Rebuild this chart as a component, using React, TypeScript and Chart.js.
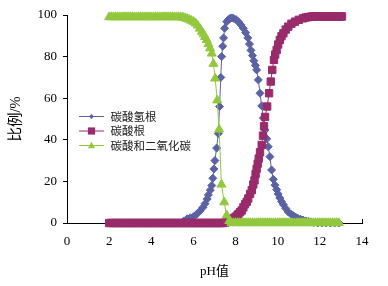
import React, { useEffect, useRef } from 'react';
import { Chart, registerables } from 'chart.js';

Chart.register(...registerables);

const seriesNames = ['碳酸氢根', '碳酸根', '碳酸和二氧化碳'];
const seriesColors = ['#5B62A3', '#992B6B', '#92C83E'];
const seriesStyles = ['rectRot', 'rect', 'triangle'];
const xTickValues = [0, 2, 4, 6, 8, 10, 12, 14];
const yTickValues = [0, 20, 40, 60, 80, 100];

// 碳酸氢根 (pH, %)
const bicarbonate: [number, number][] = [
  [2.0, 0], [2.2, 0], [2.4, 0], [2.6, 0], [2.8, 0], [3.0, 0], [3.2, 0], [3.4, 0], [3.6, 0],
  [3.8, 0], [4.0, 0], [4.2, 0], [4.4, 0], [4.6, 0], [4.8, 0], [5.0, 0], [5.2, 0], [5.4, 0],
  [5.55, 1], [5.7, 2], [5.85, 2.5], [6.0, 3], [6.15, 4.2], [6.31, 5.8], [6.45, 7.5],
  [6.55, 9.3], [6.65, 11.5], [6.71, 13.5], [6.8, 15.8], [6.87, 18], [6.92, 21.5],
  [6.97, 26], [7.02, 30], [7.1, 36], [7.18, 43], [7.24, 56], [7.3, 70], [7.34, 80],
  [7.39, 85], [7.43, 89], [7.48, 93.6], [7.58, 96.8], [7.66, 97.8], [7.74, 98.4],
  [7.82, 98.6], [7.9, 98.4], [8.02, 97.8], [8.13, 96.8], [8.25, 95.3], [8.37, 93.6],
  [8.48, 91.5], [8.58, 89], [8.66, 86], [8.73, 83], [8.8, 80.5], [8.87, 78], [8.94, 75.8],
  [9.0, 73.6], [9.08, 68.8], [9.16, 62.4], [9.24, 56.3], [9.32, 50.5], [9.4, 44.7],
  [9.48, 40.5], [9.55, 36.7], [9.63, 31.9], [9.71, 25.5], [9.79, 21], [9.87, 18.2],
  [9.95, 16], [10.02, 14], [10.1, 12], [10.18, 10.3], [10.27, 8.8], [10.38, 7],
  [10.5, 5.3], [10.62, 4.3], [10.74, 3.5], [10.85, 2.8], [10.95, 2.3], [11.08, 1.8],
  [11.2, 1.4], [11.33, 1], [11.45, 0.7], [11.58, 0.5], [11.7, 0.3], [11.9, 0], [12.1, 0],
  [12.3, 0], [12.5, 0], [12.7, 0], [12.9, 0],
];

// 碳酸根 (pH, %)
const carbonate: [number, number][] = [
  [2.0, 0], [2.1, 0], [2.2, 0], [2.3, 0], [2.4, 0], [2.5, 0], [2.6, 0], [2.7, 0], [2.8, 0],
  [2.9, 0], [3.0, 0], [3.1, 0], [3.2, 0], [3.3, 0], [3.4, 0], [3.5, 0], [3.6, 0], [3.7, 0],
  [3.8, 0], [3.9, 0], [4.0, 0], [4.1, 0], [4.2, 0], [4.3, 0], [4.4, 0], [4.5, 0], [4.6, 0],
  [4.7, 0], [4.8, 0], [4.9, 0], [5.0, 0], [5.1, 0], [5.2, 0], [5.3, 0], [5.4, 0], [5.5, 0],
  [5.6, 0], [5.7, 0], [5.8, 0], [5.9, 0], [6.0, 0], [6.1, 0], [6.2, 0], [6.3, 0], [6.4, 0],
  [6.5, 0], [6.6, 0], [6.7, 0], [6.8, 0], [6.9, 0], [7.0, 0], [7.1, 0], [7.2, 0], [7.3, 0],
  [7.4, 0], [7.5, 0.2], [7.6, 0.5], [7.68, 0.8], [7.75, 1.2], [7.83, 1.7], [7.9, 2.2],
  [7.96, 2.6], [8.02, 3], [8.08, 3.6], [8.13, 4.2], [8.21, 5.2], [8.29, 6], [8.37, 7.5],
  [8.45, 9], [8.53, 10.2], [8.6, 11.8], [8.69, 14], [8.77, 15.8], [8.84, 18.5],
  [8.9, 20.5], [8.95, 23.5], [9.0, 26], [9.05, 28.5], [9.1, 31], [9.16, 34], [9.24, 37.5],
  [9.3, 42], [9.35, 46.5], [9.4, 51], [9.5, 56], [9.59, 62.4], [9.67, 68], [9.74, 73.6],
  [9.82, 78.4], [9.88, 81], [9.95, 83.2], [10.02, 85.8], [10.1, 88], [10.18, 89.8],
  [10.27, 91.2], [10.38, 93], [10.5, 94.4], [10.65, 95.8], [10.82, 96.8], [11.0, 97.7],
  [11.2, 98.4], [11.33, 98.8], [11.45, 99], [11.6, 99.3], [11.7, 99.3], [11.8, 99.3],
  [11.9, 99.3], [12.0, 99.3], [12.1, 99.3], [12.2, 99.3], [12.3, 99.3], [12.4, 99.3],
  [12.5, 99.3], [12.6, 99.3], [12.7, 99.3], [12.8, 99.3], [12.9, 99.3], [13.0, 99.3],
  [13.05, 99.3],
];

// 碳酸和二氧化碳 (pH, %)
const carbonicAcid: [number, number][] = [
  [2.0, 99], [2.1, 99], [2.2, 99], [2.3, 99], [2.4, 99], [2.5, 99], [2.6, 99], [2.7, 99],
  [2.8, 99], [2.9, 99], [3.0, 99], [3.1, 99], [3.2, 99], [3.3, 99], [3.4, 99], [3.5, 99],
  [3.6, 99], [3.7, 99], [3.8, 99], [3.9, 99], [4.0, 99], [4.1, 99], [4.2, 99], [4.3, 99],
  [4.4, 99], [4.5, 99], [4.6, 99], [4.7, 99], [4.8, 99], [4.9, 99], [5.0, 99], [5.1, 99],
  [5.2, 99], [5.3, 99], [5.4, 98.9], [5.5, 98.8], [5.6, 98.5], [5.7, 98.2], [5.8, 97.8],
  [5.9, 97.3], [6.0, 96.8], [6.1, 96], [6.2, 95], [6.3, 93.5], [6.4, 92], [6.48, 90.8],
  [6.55, 89.5], [6.63, 88], [6.71, 86], [6.79, 84], [6.87, 81.5], [6.95, 76.5],
  [7.03, 69.5], [7.13, 59], [7.22, 45], [7.33, 18.5], [7.46, 10], [7.58, 3.7], [7.7, 1],
  [7.8, 0], [7.9, 0], [8.0, 0], [8.1, 0], [8.2, 0], [8.3, 0], [8.4, 0], [8.5, 0], [8.6, 0],
  [8.7, 0], [8.8, 0], [8.9, 0], [9.0, 0], [9.1, 0], [9.2, 0], [9.3, 0], [9.4, 0], [9.5, 0],
  [9.6, 0], [9.7, 0], [9.8, 0], [9.9, 0], [10.0, 0], [10.1, 0], [10.2, 0], [10.3, 0],
  [10.4, 0], [10.5, 0], [10.6, 0], [10.7, 0], [10.8, 0], [10.9, 0], [11.0, 0], [11.1, 0],
  [11.2, 0], [11.3, 0], [11.4, 0], [11.5, 0], [11.6, 0], [11.7, 0], [11.8, 0], [11.9, 0],
  [12.0, 0], [12.1, 0], [12.2, 0], [12.3, 0], [12.4, 0], [12.5, 0], [12.6, 0], [12.7, 0],
  [12.8, 0], [12.9, 0],
];

const seriesData = [bicarbonate, carbonate, carbonicAcid];
const pointRadii = [4, 5.2, 5.2];
const FONT = "'Liberation Serif', 'Noto Sans CJK SC', serif";
const CJK = "'Noto Sans CJK SC', 'Liberation Serif', sans-serif";

function drawMarker(ctx: CanvasRenderingContext2D, style: string, x: number, y: number, r: number) {
  ctx.beginPath();
  if (style === 'rectRot') {
    ctx.moveTo(x - r, y);
    ctx.lineTo(x, y - r);
    ctx.lineTo(x + r, y);
    ctx.lineTo(x, y + r);
    ctx.closePath();
  } else if (style === 'rect') {
    ctx.rect(x - r, y - r, 2 * r, 2 * r);
  } else {
    ctx.moveTo(x, y - r);
    ctx.lineTo(x + r * 0.95, y + r * 0.7);
    ctx.lineTo(x - r * 0.95, y + r * 0.7);
    ctx.closePath();
  }
  ctx.fill();
}

const innerXTicks = {
  id: 'innerXTicks',
  beforeDatasetsDraw(chart: any) {
    const { ctx, chartArea } = chart;
    const xs = chart.scales.x;
    ctx.save();
    ctx.strokeStyle = '#000';
    ctx.lineWidth = 1;
    for (const v of xTickValues) {
      const px = Math.round(xs.getPixelForValue(v)) + 0.5;
      ctx.beginPath();
      ctx.moveTo(px, chartArea.bottom);
      ctx.lineTo(px, chartArea.bottom - 4);
      ctx.stroke();
    }
    ctx.restore();
  },
};

const customLegend = {
  id: 'customLegend',
  afterDraw(chart: any) {
    const { ctx } = chart;
    ctx.save();
    const rowY = [116, 130.5, 145];
    const markerR = [2.6, 3.6, 3.8];
    seriesNames.forEach((name, i) => {
      const y = rowY[i];
      ctx.strokeStyle = seriesColors[i];
      ctx.fillStyle = seriesColors[i];
      ctx.lineWidth = 1;
      ctx.beginPath();
      ctx.moveTo(79, y + 0.5);
      ctx.lineTo(104, y + 0.5);
      ctx.stroke();
      drawMarker(ctx, seriesStyles[i], 91.5, y + 0.5, markerR[i]);
      ctx.fillStyle = '#222';
      ctx.font = `11.5px ${CJK}`;
      ctx.textBaseline = 'middle';
      ctx.textAlign = 'left';
      ctx.fillText(name, 110.5, y + 0.5);
    });
    ctx.restore();
  },
};

export default function App() {
  const canvasRef = useRef<HTMLCanvasElement | null>(null);

  useEffect(() => {
    document.body.style.margin = '0';
    const canvas = canvasRef.current;
    if (!canvas) return;
    const chart = new Chart(canvas, {
      type: 'scatter',
      data: {
        datasets: seriesData.map((d, i) => ({
          label: seriesNames[i],
          data: d.map(([x, y]) => ({ x, y })),
          showLine: true,
          clip: false,
          borderColor: seriesColors[i],
          backgroundColor: seriesColors[i],
          pointBackgroundColor: seriesColors[i],
          pointBorderColor: seriesColors[i],
          borderWidth: 1,
          pointBorderWidth: 1,
          pointStyle: seriesStyles[i] as any,
          pointRadius: pointRadii[i],
          tension: 0,
          order: 3 - i,
        })),
      },
      options: {
        animation: false,
        responsive: false,
        devicePixelRatio: 1,
        layout: { padding: { top: 15, right: 26, left: 0, bottom: 0 } },
        plugins: {
          legend: { display: false },
          tooltip: { enabled: false },
        },
        scales: {
          x: {
            type: 'linear',
            min: 0,
            max: 14,
            afterBuildTicks: (s: any) => {
              s.ticks = xTickValues.map((v) => ({ value: v }));
            },
            ticks: {
              color: '#000',
              font: { family: FONT, size: 13 },
              padding: 11,
              maxRotation: 0,
            },
            grid: { drawOnChartArea: false, drawTicks: false },
            border: { display: true, color: '#000', width: 1 },
            title: {
              display: true,
              text: 'pH值',
              color: '#000',
              font: { family: FONT, size: 13 },
              padding: { top: 0, bottom: 7 },
            },
            afterFit: (s: any) => {
              s.height = 63;
            },
          },
          y: {
            type: 'linear',
            min: 0,
            max: 100,
            afterBuildTicks: (s: any) => {
              s.ticks = yTickValues.map((v) => ({ value: v }));
            },
            ticks: {
              color: '#000',
              font: { family: FONT, size: 13 },
              padding: 6,
            },
            grid: { drawOnChartArea: false, drawTicks: true, tickLength: 4, color: '#000' },
            border: { display: true, color: '#000', width: 1 },
            title: {
              display: true,
              text: '比例/%',
              color: '#000',
              font: { family: FONT, size: 14.5 },
              padding: { top: 7, bottom: 0 },
            },
            afterFit: (s: any) => {
              s.width = 67;
            },
          },
        },
      },
      plugins: [innerXTicks, customLegend],
    });
    return () => chart.destroy();
  }, []);

  return (
    <div style={{ width: 388, height: 286 }}>
      <canvas ref={canvasRef} width={388} height={286} style={{ display: 'block' }} />
    </div>
  );
}
